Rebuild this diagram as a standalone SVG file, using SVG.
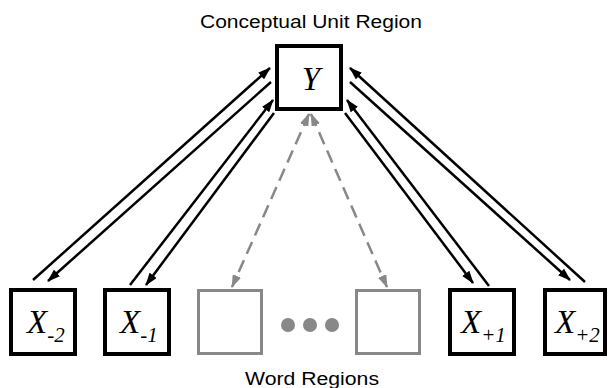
<svg xmlns="http://www.w3.org/2000/svg" width="608" height="388" viewBox="0 0 608 388">
<defs>
<style>
.lbl{font-family:"Liberation Sans",Arial,sans-serif;font-size:17.5px;fill:#000}
.var{font-family:"Liberation Serif","Times New Roman",serif;font-style:italic;fill:#000}
.bx{fill:#fff;stroke:#000;stroke-width:4}
.gbx{fill:#fff;stroke:#888;stroke-width:3}
.ar{stroke:#000;stroke-width:2.5;fill:none;marker-end:url(#ah)}
.da{stroke:#888;stroke-width:2.5;fill:none;stroke-dasharray:13 7;marker-start:url(#gs);marker-end:url(#ge)}
</style>
<marker id="ah" markerUnits="userSpaceOnUse" markerWidth="13" markerHeight="9" refX="12" refY="4.5" orient="auto"><path d="M0,0 L13,4.5 L0,9 z" fill="#000"/></marker>
<marker id="ge" markerUnits="userSpaceOnUse" markerWidth="13" markerHeight="9" refX="12" refY="4.5" orient="auto"><path d="M0,0 L13,4.5 L0,9 z" fill="#888"/></marker>
<marker id="gs" markerUnits="userSpaceOnUse" markerWidth="13" markerHeight="9" refX="1" refY="4.5" orient="auto"><path d="M13,0 L0,4.5 L13,9 z" fill="#888"/></marker>
</defs>
<rect width="608" height="388" fill="#fff"/>
<text class="lbl" x="200" y="28" textLength="222" lengthAdjust="spacingAndGlyphs">Conceptual Unit Region</text>
<text class="lbl" x="245" y="385" textLength="134" lengthAdjust="spacingAndGlyphs">Word Regions</text>
<g id="connectors">
<line class="ar" x1="33" y1="280" x2="270" y2="68"/>
<line class="ar" x1="271" y1="82" x2="48" y2="281"/>
<line class="ar" x1="130" y1="285" x2="273" y2="100"/>
<line class="ar" x1="274" y1="113" x2="146" y2="285"/>
<line class="ar" x1="350" y1="82" x2="570" y2="280"/>
<line class="ar" x1="585" y1="282" x2="350" y2="68"/>
<line class="ar" x1="345" y1="113" x2="473" y2="283"/>
<line class="ar" x1="489" y1="286" x2="347" y2="100"/>
<line class="da" x1="309" y1="114" x2="232" y2="287"/>
<line class="da" x1="311" y1="114" x2="387" y2="287"/>
</g>
<g id="Y"><rect class="bx" x="277" y="46" width="64" height="63"/><text class="var" x="311" y="90" font-size="33" text-anchor="middle">Y</text></g>
<g id="Xm2"><rect class="bx" x="11" y="290" width="64" height="64"/><text class="var" x="27" y="333" font-size="33">X<tspan font-size="21" dy="9">-2</tspan></text></g>
<g id="Xm1"><rect class="bx" x="105" y="290" width="64" height="64"/><text class="var" x="120" y="333" font-size="33">X<tspan font-size="21" dy="9">-1</tspan></text></g>
<g id="W1"><rect class="gbx" x="198.5" y="290.5" width="63" height="63"/></g>
<g id="dots"><circle cx="288" cy="325" r="7" fill="#888"/><circle cx="310" cy="325" r="7" fill="#888"/><circle cx="332" cy="325" r="7" fill="#888"/></g>
<g id="W2"><rect class="gbx" x="356.5" y="290.5" width="63" height="63"/></g>
<g id="Xp1"><rect class="bx" x="450" y="290" width="64" height="64"/><text class="var" x="461" y="333" font-size="33">X<tspan font-size="21" dy="9">+1</tspan></text></g>
<g id="Xp2"><rect class="bx" x="545" y="290" width="60" height="64"/><text class="var" x="555" y="333" font-size="33">X<tspan font-size="21" dy="9">+2</tspan></text></g>
</svg>
